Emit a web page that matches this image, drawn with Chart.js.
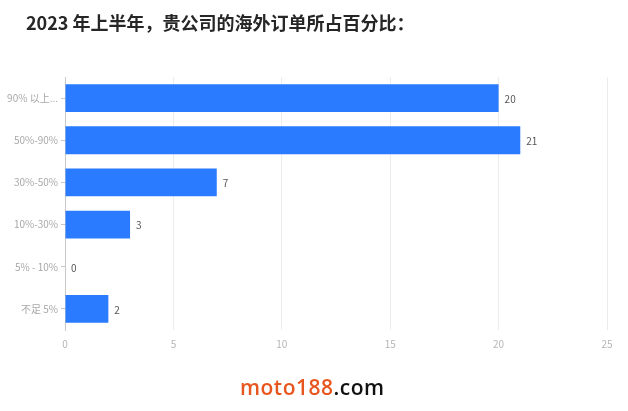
<!DOCTYPE html>
<html>
<head>
<meta charset="utf-8">
<script src="https://cdn.jsdelivr.net/npm/chart.js@4/dist/chart.umd.min.js"></script>
<style>
  html, body { margin: 0; padding: 0; background: #fff; }
  #wrap { position: relative; width: 628px; height: 411px; overflow: hidden; }
  #c { position: absolute; left: 0; top: 0; }
  #title { position: absolute; left: 26px; top: 9px; font: bold 18px "Noto Sans CJK SC", sans-serif; color: #262626; white-space: nowrap; }
  #mark { position: absolute; left: 240px; top: 373px; font: 600 21px "Open Sans", "DejaVu Sans", sans-serif; letter-spacing: 0.5px; white-space: nowrap; }
  #mark .o { color: #e8561f; }
  #mark .k { color: #111; }
</style>
</head>
<body>
<div id="wrap">
  <canvas id="c" width="628" height="411"></canvas>
  <div id="title">2023 年上半年，贵公司的海外订单所占百分比：</div>
  <div id="mark"><span class="o">moto188</span><span class="k">.com</span></div>
</div>
<script>
const categories = ['90% 以上...', '50%-90%', '30%-50%', '10%-30%', '5% - 10%', '不足 5%'];
const counts = [20, 21, 7, 3, 0, 2];
const xTicks = [0, 5, 10, 15, 20, 25];

// writes each bar's value just past its end
const valueLabels = {
  id: 'valueLabels',
  afterDatasetsDraw(chart) {
    const ctx = chart.ctx;
    const meta = chart.getDatasetMeta(0);
    ctx.save();
    ctx.font = '10px "Noto Sans CJK SC", sans-serif';
    ctx.fillStyle = '#555';
    ctx.textAlign = 'left';
    ctx.textBaseline = 'middle';
    meta.data.forEach((bar, i) => {
      ctx.fillText(String(counts[i]), bar.x + 6, bar.y + 1);
    });
    ctx.restore();
  }
};

new Chart(document.getElementById('c'), {
  type: 'bar',
  data: {
    labels: categories,
    datasets: [{
      data: counts,
      backgroundColor: '#2a7bff',
      borderWidth: 0,
      categoryPercentage: 0.66,
      barPercentage: 1.0
    }]
  },
  options: {
    indexAxis: 'y',
    responsive: false,
    animation: false,
    layout: { padding: { top: 77, right: 21, bottom: 56, left: 0 } },
    plugins: { legend: { display: false }, tooltip: { enabled: false } },
    scales: {
      x: {
        min: 0, max: 25,
        afterBuildTicks(scale) { scale.ticks = xTicks.map(v => ({ value: v })); },
        afterFit(scale) { scale.height = 25; },
        grid: { color: '#ececec', drawTicks: false, lineWidth: 1 },
        border: { display: false },
        ticks: { color: '#b5b5b5', font: { size: 10, family: '"Noto Sans CJK SC", sans-serif' }, padding: 8 }
      },
      y: {
        afterFit(scale) { scale.width = 65; },
        grid: { offset: false, drawOnChartArea: false, drawTicks: true, tickLength: 4, color: '#c8c8c8' },
        border: { display: true, color: '#c8c8c8' },
        ticks: { color: '#a8a8a8', font: { size: 10, family: '"Noto Sans CJK SC", sans-serif' }, padding: 3 }
      }
    }
  },
  plugins: [valueLabels]
});
</script>
</body>
</html>
